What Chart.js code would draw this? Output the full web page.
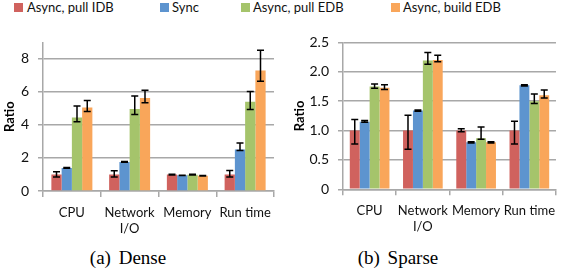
<!DOCTYPE html>
<html>
<head>
<meta charset="utf-8">
<script src="https://cdn.jsdelivr.net/npm/chart.js@4.4.1/dist/chart.umd.min.js"></script>
<style>
    body { margin: 0; background: #fff; width: 563px; height: 277px; position: relative; overflow: hidden; font-family: Lato, sans-serif; }
    .key { position: absolute; top: 3px; width: 9px; height: 9px; }
    .lab { position: absolute; top: -1px; font-size: 13px; color: #111; white-space: nowrap; }
    .cap { position: absolute; top: 247px; font-family: "Liberation Serif", serif; font-size: 19px; color: #000; white-space: nowrap; transform: translateX(-50%); word-spacing: 3px; }
    #denseBox { position: absolute; left: 0; top: 25px; width: 280px; height: 215px; }
    #sparseBox { position: absolute; left: 280px; top: 25px; width: 283px; height: 215px; }
</style>
</head>
<body>
<div class="key" style="left:14px;background:#D0625E"></div><span class="lab" style="left:27px">Async, pull IDB</span>
<div class="key" style="left:160px;background:#5D94CF"></div><span class="lab" style="left:172px">Sync</span>
<div class="key" style="left:241px;background:#A5C46B"></div><span class="lab" style="left:253px">Async, pull EDB</span>
<div class="key" style="left:391px;background:#F9A65A"></div><span class="lab" style="left:403px">Async, build EDB</span>

<div id="denseBox"><canvas id="denseChart"></canvas></div>
<div id="sparseBox"><canvas id="sparseChart"></canvas></div>

<span class="cap" style="left:128px">(a) Dense</span>
<span class="cap" style="left:398px">(b) Sparse</span>

<script>
const categories = ['CPU', ['Network', 'I/O'], 'Memory', 'Run time']
const seriesNames = ['Async, pull IDB', 'Sync', 'Async, pull EDB', 'Async, build EDB']
const colors = ['#D0625E', '#5D94CF', '#A5C46B', '#F9A65A']

// dense values + error bar ends (low / high)
const densePullIDB = [1.0, 1.0, 1.0, 1.0]
const densePullIDBLow = [0.85, 0.85, 0.97, 0.85]
const densePullIDBHigh = [1.17, 1.23, 1.02, 1.24]
const denseSync = [1.4, 1.76, 0.95, 2.52]
const denseSyncLow = [1.38, 1.74, 0.94, 2.46]
const denseSyncHigh = [1.42, 1.78, 0.96, 2.9]
const densePullEDB = [4.45, 4.97, 0.99, 5.4]
const densePullEDBLow = [4.2, 4.64, 0.97, 4.93]
const densePullEDBHigh = [5.15, 5.76, 1.01, 6.02]
const denseBuildEDB = [5.06, 5.63, 0.92, 7.3]
const denseBuildEDBLow = [4.81, 5.35, 0.91, 6.65]
const denseBuildEDBHigh = [5.48, 6.1, 0.94, 8.52]
const denseTicks = [0, 2, 4, 6, 8]

// sparse values + error bar ends
const sparsePullIDB = [1.0, 1.0, 1.0, 1.0]
const sparsePullIDBLow = [0.77, 0.68, 0.98, 0.77]
const sparsePullIDBHigh = [1.19, 1.26, 1.03, 1.16]
const sparseSync = [1.15, 1.34, 0.8, 1.77]
const sparseSyncLow = [1.14, 1.33, 0.79, 1.76]
const sparseSyncHigh = [1.17, 1.35, 0.81, 1.78]
const sparsePullEDB = [1.75, 2.19, 0.87, 1.5]
const sparsePullEDBLow = [1.72, 2.13, 0.85, 1.46]
const sparsePullEDBHigh = [1.79, 2.33, 1.06, 1.62]
const sparseBuildEDB = [1.73, 2.2, 0.8, 1.6]
const sparseBuildEDBLow = [1.7, 2.17, 0.79, 1.555]
const sparseBuildEDBHigh = [1.78, 2.28, 0.81, 1.69]
const sparseTicks = [0, 0.5, 1, 1.5, 2, 2.5]

const errorBars = {
    id: 'errorBars',
    afterDatasetsDraw(chart) {
        const ctx = chart.ctx
        const y = chart.scales.y
        chart.data.datasets.forEach((ds, i) => {
            chart.getDatasetMeta(i).data.forEach((bar, j) => {
                const lo = y.getPixelForValue(ds.errLow[j])
                const hi = y.getPixelForValue(ds.errHigh[j])
                ctx.save()
                ctx.strokeStyle = '#000'
                ctx.lineWidth = 1.5
                ctx.beginPath()
                ctx.moveTo(bar.x, lo); ctx.lineTo(bar.x, hi)
                ctx.moveTo(bar.x - 3.5, lo); ctx.lineTo(bar.x + 3.5, lo)
                ctx.moveTo(bar.x - 3.5, hi); ctx.lineTo(bar.x + 3.5, hi)
                ctx.stroke()
                ctx.restore()
            })
        })
    }
}

function makeSets(vals, lows, highs) {
    return vals.map((v, i) => ({
        label: seriesNames[i],
        data: v,
        errLow: lows[i],
        errHigh: highs[i],
        backgroundColor: colors[i],
        borderWidth: 0
    }))
}

function makeChart(id, sets, yMax, ticks, opt) {
    new Chart(document.getElementById(id), {
        type: 'bar',
        data: { labels: categories, datasets: sets },
        plugins: [errorBars],
        options: {
            responsive: true,
            maintainAspectRatio: false,
            animation: false,
            categoryPercentage: opt.catPct,
            barPercentage: 1.0,
            layout: { padding: { top: opt.top, right: opt.right, left: 0, bottom: 0 } },
            plugins: { legend: { display: false }, tooltip: { enabled: false } },
            scales: {
                x: {
                    afterFit: s => { s.height = opt.xHeight },
                    grid: { offset: true, drawOnChartArea: false, tickLength: 6, color: '#a8a8a8', lineWidth: 1.5 },
                    border: { color: '#a8a8a8', width: 1.5 },
                    ticks: { color: '#111', font: { family: 'Lato', size: 13 }, padding: 8, maxRotation: 0 }
                },
                y: {
                    min: 0,
                    max: yMax,
                    afterFit: s => { s.width = opt.yWidth },
                    afterBuildTicks: s => { s.ticks = ticks.map(v => ({ value: v })) },
                    grid: { tickLength: 5, color: '#a8a8a8', lineWidth: 1.5 },
                    border: { color: '#a8a8a8', width: 1.5 },
                    ticks: { color: '#111', font: { family: 'Lato', size: 14 }, padding: 9 },
                    title: { display: true, text: 'Ratio', color: '#000', font: { family: 'Lato', size: 13, weight: 'bold' }, padding: { top: opt.titlePad, bottom: 0 } }
                }
            }
        }
    })
}

makeChart('denseChart',
    makeSets([densePullIDB, denseSync, densePullEDB, denseBuildEDB],
             [densePullIDBLow, denseSyncLow, densePullEDBLow, denseBuildEDBLow],
             [densePullIDBHigh, denseSyncHigh, densePullEDBHigh, denseBuildEDBHigh]),
    9, denseTicks,
    { catPct: 0.71, top: 6.7, right: 6, xHeight: 49, yWidth: 43, titlePad: 2 })

makeChart('sparseChart',
    makeSets([sparsePullIDB, sparseSync, sparsePullEDB, sparseBuildEDB],
             [sparsePullIDBLow, sparseSyncLow, sparsePullEDBLow, sparseBuildEDBLow],
             [sparsePullIDBHigh, sparseSyncHigh, sparsePullEDBHigh, sparseBuildEDBHigh]),
    2.5, sparseTicks,
    { catPct: 0.745, top: 10, right: 0, xHeight: 50.7, yWidth: 63, titlePad: 12 })
</script>
</body>
</html>
